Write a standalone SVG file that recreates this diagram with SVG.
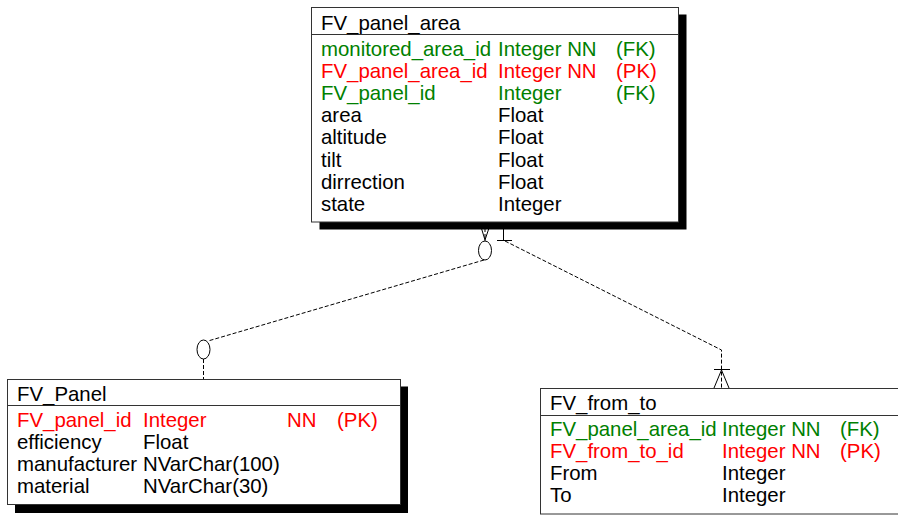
<svg xmlns="http://www.w3.org/2000/svg" width="898" height="515" viewBox="0 0 898 515">
<style>
text{font-family:"Liberation Sans",Arial,sans-serif;font-size:20.4px;fill:#000}
.g{fill:#008000}
.r{fill:#ff0000}
.box{fill:#fff;stroke:#333;stroke-width:1}
.sh{fill:#000}
.hl{stroke:#333;stroke-width:1}
.c{fill:none;stroke:#000;stroke-width:1}
.d{fill:none;stroke:#000;stroke-width:1;stroke-dasharray:4 2}
</style>
<rect width="898" height="515" fill="#fff"/>
<g id="connectors">
  <path class="c" d="M479.5 222 L485 240 M491 222 L485 240"/>
  <path class="d" d="M485 222 V241"/>
  <ellipse class="c" cx="485" cy="250.5" rx="6.5" ry="9.5"/>
  <path class="d" d="M484 260 L208 341"/>
  <ellipse class="c" cx="203.5" cy="349.5" rx="6.5" ry="9.5"/>
  <path class="d" d="M203.5 359 V379"/>
  <path class="c" d="M503.5 222 V240.5 M497 240.5 H512"/>
  <path class="d" d="M505 241 L721.5 350 V388"/>
  <path class="c" d="M714 369.5 H730 M721.5 370 L714 388 M721.5 370 L729 388"/>
</g>
<g id="FV_panel_area">
  <rect class="sh" x="319.5" y="14.5" width="367" height="215"/>
  <rect class="box" x="311.5" y="7.5" width="367" height="214.5"/>
  <line class="hl" x1="311.5" y1="34.5" x2="678.5" y2="34.5"/>
  <text x="321" y="29.5">FV_panel_area</text>
  <text class="g" x="321" y="55.5">monitored_area_id</text>
  <text class="g" x="498" y="55.5">Integer NN</text>
  <text class="g" x="616" y="55.5">(FK)</text>
  <text class="r" x="321" y="77.7">FV_panel_area_id</text>
  <text class="r" x="498" y="77.7">Integer NN</text>
  <text class="r" x="616" y="77.7">(PK)</text>
  <text class="g" x="321" y="99.9">FV_panel_id</text>
  <text class="g" x="498" y="99.9">Integer</text>
  <text class="g" x="616" y="99.9">(FK)</text>
  <text x="321" y="122.1">area</text>
  <text x="498" y="122.1">Float</text>
  <text x="321" y="144.3">altitude</text>
  <text x="498" y="144.3">Float</text>
  <text x="321" y="166.5">tilt</text>
  <text x="498" y="166.5">Float</text>
  <text x="321" y="188.7">dirrection</text>
  <text x="498" y="188.7">Float</text>
  <text x="321" y="210.9">state</text>
  <text x="498" y="210.9">Integer</text>
</g>
<g id="FV_Panel">
  <rect class="sh" x="15" y="386.5" width="393" height="126.5"/>
  <rect class="box" x="7.5" y="379.5" width="393" height="125"/>
  <line class="hl" x1="7.5" y1="405.5" x2="400.5" y2="405.5"/>
  <text x="17" y="401.2">FV_Panel</text>
  <text class="r" x="17" y="427.2">FV_panel_id</text>
  <text class="r" x="143" y="427.2">Integer</text>
  <text class="r" x="287" y="427.2">NN</text>
  <text class="r" x="337" y="427.2">(PK)</text>
  <text x="17" y="449">efficiency</text>
  <text x="143" y="449">Float</text>
  <text x="17" y="470.7">manufacturer</text>
  <text x="143" y="470.7">NVarChar(100)</text>
  <text x="17" y="492.5">material</text>
  <text x="143" y="492.5">NVarChar(30)</text>
</g>
<g id="FV_from_to">
  <rect class="box" x="540.5" y="388.5" width="400" height="125.5"/>
  <line class="hl" x1="540.5" y1="415.5" x2="940" y2="415.5"/>
  <text x="550" y="409.5">FV_from_to</text>
  <text class="g" x="550" y="435.5">FV_panel_area_id</text>
  <text class="g" x="722" y="435.5">Integer NN</text>
  <text class="g" x="840" y="435.5">(FK)</text>
  <text class="r" x="550" y="457.8">FV_from_to_id</text>
  <text class="r" x="722" y="457.8">Integer NN</text>
  <text class="r" x="840" y="457.8">(PK)</text>
  <text x="550" y="480.1">From</text>
  <text x="722" y="480.1">Integer</text>
  <text x="550" y="502.4">To</text>
  <text x="722" y="502.4">Integer</text>
</g>
</svg>
